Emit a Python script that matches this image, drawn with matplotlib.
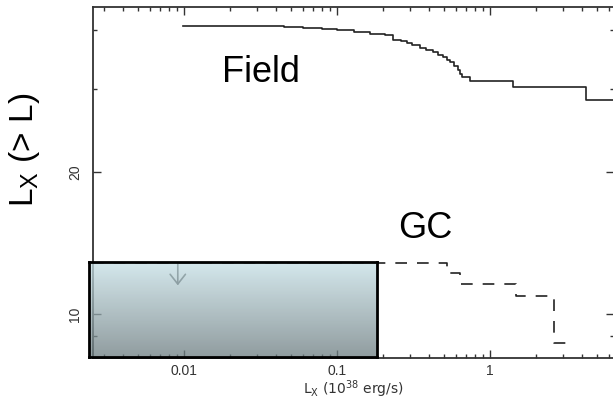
import numpy as np
import matplotlib
matplotlib.use("Agg")
import matplotlib.pyplot as plt
from matplotlib.ticker import FixedLocator, NullFormatter, LogLocator

plt.rcParams['font.family'] = ['Liberation Sans', 'DejaVu Sans']
plt.rcParams['mathtext.default'] = 'regular'

# cumulative curves (step positions, value after the step)
field_x = [0.0099, 0.03, 0.045, 0.06, 0.08, 0.1, 0.13, 0.164, 0.206, 0.232, 0.26,
           0.287, 0.31, 0.349, 0.38, 0.424, 0.46, 0.493, 0.52, 0.548, 0.58, 0.618,
           0.637, 0.656, 0.74, 1.41, 4.24, 7.0]
field_y = [40.8, 40.7, 40.6, 40.4, 40.2, 40.0, 39.6, 39.2, 38.9, 38.1, 37.8,
           37.5, 37.1, 36.6, 36.3, 35.9, 35.4, 35.0, 34.6, 34.2, 33.5, 32.9,
           32.3, 31.8, 31.2, 30.3, 28.4, 28.4]

gc_x = [0.0025, 0.524, 0.637, 1.48, 2.62, 3.49]
gc_y = [12.8, 12.2, 11.6, 10.9, 8.68, 8.68]

arrow_x = 0.0091
arrow_y = [12.8, 11.5]

xticks = [0.01, 0.1, 1]
xticklabels = ['0.01', '0.1', '1']
yticks = [10, 20]
yticklabels = ['10', '20']
yminor = [9, 30, 40]

W, H = 613, 401
fig = plt.figure(figsize=(W / 100, H / 100), dpi=100)
ax = fig.add_axes([93 / W, 43 / H, 521 / W, 351 / H])

ax.plot(field_x, field_y, color='#222222', lw=1.2, drawstyle='steps-post')
ax.plot(gc_x, gc_y, color='#222222', lw=1.2, drawstyle='steps-post',
        dashes=(7, 6))
ax.annotate('', xy=(arrow_x, arrow_y[1]), xytext=(arrow_x, arrow_y[0]),
            arrowprops=dict(arrowstyle='->,head_length=0.7,head_width=0.55',
                            color='#222222', lw=1.2, shrinkA=0, shrinkB=0))

ax.set_xscale('log')
ax.set_yscale('log')
ax.set_xlim(0.00254, 6.46)
ax.set_ylim(8.07, 44.7)

ax.xaxis.set_major_locator(FixedLocator(xticks))
ax.set_xticklabels(xticklabels)
ax.xaxis.set_minor_locator(LogLocator(base=10, subs=np.arange(2, 10)))
ax.xaxis.set_minor_formatter(NullFormatter())
ax.yaxis.set_major_locator(FixedLocator(yticks))
ax.set_yticklabels(yticklabels, rotation=90, va='center')
ax.yaxis.set_minor_locator(FixedLocator(yminor))
ax.yaxis.set_minor_formatter(NullFormatter())

ax.tick_params(which='both', direction='in', top=True, right=True,
               colors='#333333', labelsize=10)
ax.tick_params(which='major', length=6, width=1)
ax.tick_params(which='minor', length=3, width=1)
ax.tick_params(axis='x', pad=4)
ax.tick_params(axis='y', pad=8)
for s in ax.spines.values():
    s.set_color('#333333')
    s.set_linewidth(1.3)

ax.set_xlabel('L$_X$ (10$^{38}$ erg/s)', fontsize=10, color='#333333',
              family='DejaVu Sans', labelpad=0.5)

fig.text(25 / W, 1 - 150 / H, 'L$_X$ (> L)', rotation=90, fontsize=24,
         ha='center', va='center')
fig.text(261 / W, 1 - 72 / H, 'Field', fontsize=26, ha='center', va='center')
fig.text(425 / W, 1 - 229 / H, 'GC', fontsize=26, ha='center', va='center')

# semi-transparent shaded box laid over the GC region
top_c = np.array([198, 224, 230]) / 255
bot_c = np.array([108, 124, 128]) / 255
t = np.linspace(0, 1, 100)[:, None]
grad = np.ones((100, 1, 4))
grad[:, 0, :3] = top_c * (1 - t) + bot_c * t
grad[:, 0, 3] = 0.75
box = fig.add_axes([89 / W, 44 / H, 288 / W, 95 / H])
box.imshow(grad, aspect='auto', extent=[0, 1, 0, 1], interpolation='bilinear')
box.set_xticks([])
box.set_yticks([])
box.patch.set_alpha(0)
for s in box.spines.values():
    s.set_color('black')
    s.set_linewidth(2)

fig.savefig('out.png', dpi=100)
